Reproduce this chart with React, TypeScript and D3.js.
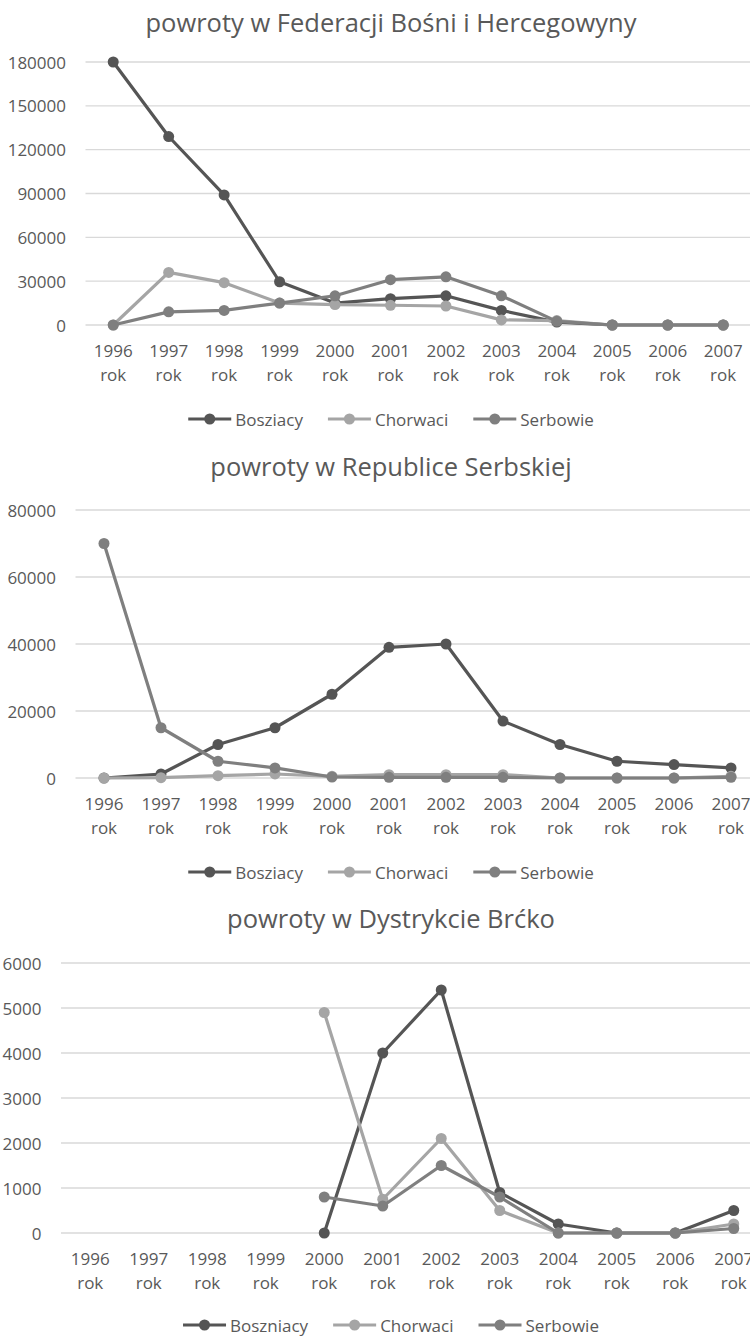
import { useRef, useEffect } from "react";
import * as d3 from "d3";

const years = ["1996", "1997", "1998", "1999", "2000", "2001", "2002", "2003", "2004", "2005", "2006", "2007"];

// Federacja BiH
const fedBosniacs = [180000, 129000, 89000, 29600, 15000, 18000, 20000, 10000, 2000, 0, 0, 0];
const fedCroats = [0, 36000, 29000, 15000, 14000, 13500, 13000, 3500, 3000, 0, 0, 0];
const fedSerbs = [0, 9000, 10000, 15000, 20000, 31000, 33000, 20000, 2500, 0, 0, 0];

// Republika Serbska
const rsBosniacs = [0, 1200, 10000, 15000, 25000, 39000, 40000, 17000, 10000, 5000, 4000, 3000];
const rsCroats = [0, 100, 700, 1200, 500, 1000, 1000, 1000, 0, 0, 0, 500];
const rsSerbs = [70000, 15000, 5000, 3000, 300, 200, 200, 200, 0, 0, 0, 200];

// Dystrykt Brčko
const brBosniacs = [null, null, null, null, 0, 4000, 5400, 900, 200, 0, 0, 500];
const brCroats = [null, null, null, null, 4900, 750, 2100, 500, 0, 0, 0, 200];
const brSerbs = [null, null, null, null, 800, 600, 1500, 800, 0, 0, 0, 100];

const seriesColors = ["#555555", "#a5a5a5", "#7f7f7f"];

type Panel = {
  title: string;
  names: string[];
  series: (number | null)[][];
  yMax: number;
  yStep: number;
  titleY: number;
  plotTop: number;
  plotBottom: number;
  plotLeft: number;
  bandWidth: number;
  legendY: number;
};

const panels: Panel[] = [
  {
    title: "powroty w Federacji Bośni i Hercegowyny",
    names: ["Bosziacy", "Chorwaci", "Serbowie"],
    series: [fedBosniacs, fedCroats, fedSerbs],
    yMax: 180000,
    yStep: 30000,
    titleY: 22,
    plotTop: 62,
    plotBottom: 325,
    plotLeft: 85.5,
    bandWidth: 55.45,
    legendY: 419,
  },
  {
    title: "powroty w Republice Serbskiej",
    names: ["Bosziacy", "Chorwaci", "Serbowie"],
    series: [rsBosniacs, rsCroats, rsSerbs],
    yMax: 80000,
    yStep: 20000,
    titleY: 466,
    plotTop: 510,
    plotBottom: 778,
    plotLeft: 75.5,
    bandWidth: 57,
    legendY: 872,
  },
  {
    title: "powroty w Dystrykcie Brćko",
    names: ["Boszniacy", "Chorwaci", "Serbowie"],
    series: [brBosniacs, brCroats, brSerbs],
    yMax: 6000,
    yStep: 1000,
    titleY: 918,
    plotTop: 963,
    plotBottom: 1233,
    plotLeft: 61,
    bandWidth: 58.5,
    legendY: 1325,
  },
];

const FONT = "'Open Sans', sans-serif";
const TEXT = "#595959";
const GRID = "#d9d9d9";

export default function App() {
  const svgRef = useRef<SVGSVGElement>(null);

  useEffect(() => {
    document.body.style.margin = "0";
    if (!svgRef.current) return;
    const svg = d3.select(svgRef.current);
    svg.selectAll("*").remove();

    panels.forEach((p) => {
      const g = svg.append("g");
      const x = d3.scaleBand<string>()
        .domain(years)
        .range([p.plotLeft, p.plotLeft + p.bandWidth * years.length]);
      const y = d3.scaleLinear().domain([0, p.yMax]).range([p.plotBottom, p.plotTop]);
      const cx = (yr: string) => (x(yr) ?? 0) + x.bandwidth() / 2;

      g.append("text")
        .attr("x", 391)
        .attr("y", p.titleY)
        .attr("text-anchor", "middle")
        .attr("dominant-baseline", "central")
        .attr("font-family", FONT)
        .attr("font-size", 25.5)
        .attr("fill", TEXT)
        .text(p.title);

      const ticks = d3.range(0, p.yMax + p.yStep / 2, p.yStep);
      ticks.forEach((t) => {
        g.append("line")
          .attr("x1", p.plotLeft)
          .attr("x2", 750)
          .attr("y1", y(t))
          .attr("y2", y(t))
          .attr("stroke", GRID)
          .attr("stroke-width", 1.3);
        g.append("text")
          .attr("x", p.plotLeft - 19.5)
          .attr("y", y(t))
          .attr("text-anchor", "end")
          .attr("dominant-baseline", "central")
          .attr("font-family", FONT)
          .attr("font-size", 17)
          .attr("fill", TEXT)
          .text(String(t));
      });

      years.forEach((yr) => {
        const t = g.append("text")
          .attr("x", cx(yr))
          .attr("text-anchor", "middle")
          .attr("font-family", FONT)
          .attr("font-size", 17)
          .attr("fill", TEXT);
        t.append("tspan").attr("x", cx(yr)).attr("y", p.plotBottom + 25)
          .attr("dominant-baseline", "central").text(yr);
        t.append("tspan").attr("x", cx(yr)).attr("y", p.plotBottom + 49)
          .attr("dominant-baseline", "central").text("rok");
      });

      p.series.forEach((vals, si) => {
        const pts = years.map((yr, i) => ({ yr, v: vals[i] }));
        const line = d3.line<{ yr: string; v: number | null }>()
          .defined((d) => d.v !== null)
          .x((d) => cx(d.yr))
          .y((d) => y(d.v as number));
        g.append("path")
          .attr("d", line(pts))
          .attr("fill", "none")
          .attr("stroke", seriesColors[si])
          .attr("stroke-width", 3.2)
          .attr("stroke-linejoin", "round");
        pts.filter((d) => d.v !== null).forEach((d) => {
          g.append("circle")
            .attr("cx", cx(d.yr))
            .attr("cy", y(d.v as number))
            .attr("r", 5.5)
            .attr("fill", seriesColors[si]);
        });
      });

      // legend, centred under the chart
      const legY = p.legendY;
      const leg = g.append("g");
      let cursor = 0;
      p.names.forEach((name, si) => {
        const item = leg.append("g").attr("transform", `translate(${cursor},0)`);
        item.append("line")
          .attr("x1", 0).attr("x2", 43)
          .attr("y1", legY).attr("y2", legY)
          .attr("stroke", seriesColors[si]).attr("stroke-width", 3.2);
        item.append("circle")
          .attr("cx", 21.5).attr("cy", legY).attr("r", 5.5)
          .attr("fill", seriesColors[si]);
        const txt = item.append("text")
          .attr("x", 47)
          .attr("y", legY)
          .attr("dominant-baseline", "central")
          .attr("font-family", FONT)
          .attr("font-size", 17)
          .attr("fill", TEXT)
          .text(name);
        const w = (txt.node() as SVGTextElement).getComputedTextLength();
        cursor += 47 + w + 25;
      });
      const total = cursor - 25;
      leg.attr("transform", `translate(${391 - total / 2},0)`);
    });
  }, []);

  return <svg ref={svgRef} width={750} height={1337} style={{ display: "block" }} />;
}
